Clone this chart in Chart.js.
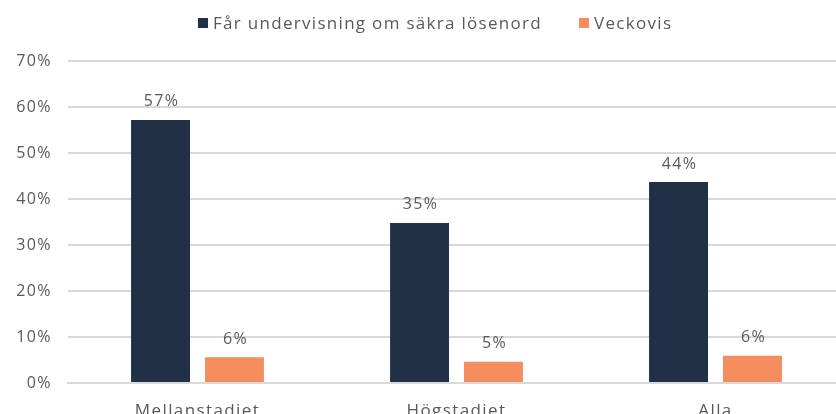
<!DOCTYPE html>
<html>
<head>
<meta charset="utf-8">
<script src="https://cdn.jsdelivr.net/npm/chart.js@4"></script>
<style>
  html, body { margin: 0; padding: 0; background: #fff; overflow: hidden; }
  #wrap { position: relative; width: 836px; height: 414px; overflow: hidden; }
  #box { position: absolute; left: 0; top: 0; width: 850px; height: 440px; }
  #legend { position: absolute; top: 10px; left: 198px; font-family: "Open Sans", sans-serif; font-size: 17px; letter-spacing: 1.3px; color: #595959; white-space: nowrap; line-height: 24px; }
  #legend span.item { display: inline-flex; align-items: center; margin-right: 37px; }
  #legend span.sw { display: inline-block; width: 10px; height: 10px; margin-right: 5px; }
</style>
</head>
<body>
<div id="wrap">
  <div id="box"><canvas id="c" width="850" height="440"></canvas></div>
  <div id="legend"></div>
</div>
<script>
const categories = ["Mellanstadiet", "Högstadiet", "Alla"];
const seriesNames = ["Får undervisning om säkra lösenord", "Veckovis"];
const undervisning = [57.2, 34.8, 43.7];
const veckovis = [5.6, 4.6, 5.9];
const yTicks = [0, 10, 20, 30, 40, 50, 60, 70];
const colors = ["#1f3047", "#f68d5e"];
const fontFamily = "'Open Sans', sans-serif";
const textColor = "#595959";
const spacing = "1.4px";

// HTML legend
const legend = document.getElementById("legend");
seriesNames.forEach((n, i) => {
  const s = document.createElement("span");
  s.className = "item";
  const sw = document.createElement("span");
  sw.className = "sw";
  sw.style.background = colors[i];
  s.appendChild(sw);
  s.appendChild(document.createTextNode(n));
  legend.appendChild(s);
});

const letterSpacingPlugin = {
  id: "letterSpacing",
  beforeUpdate(chart) { chart.ctx.letterSpacing = spacing; },
  beforeLayout(chart) { chart.ctx.letterSpacing = spacing; },
  beforeDraw(chart) { chart.ctx.letterSpacing = spacing; }
};

const valueLabels = {
  id: "valueLabels",
  afterDatasetsDraw(chart) {
    const ctx = chart.ctx;
    ctx.save();
    ctx.letterSpacing = spacing;
    ctx.font = "16px " + fontFamily;
    ctx.fillStyle = textColor;
    ctx.textAlign = "center";
    ctx.textBaseline = "middle";
    chart.data.datasets.forEach((ds, di) => {
      const meta = chart.getDatasetMeta(di);
      meta.data.forEach((el, i) => {
        ctx.fillText(Math.round(ds.data[i]) + "%", el.x + 1, el.y - 18);
      });
    });
    ctx.restore();
  }
};

new Chart(document.getElementById("c"), {
  type: "bar",
  data: {
    labels: categories,
    datasets: [
      { label: seriesNames[0], data: undervisning, backgroundColor: colors[0] },
      { label: seriesNames[1], data: veckovis, backgroundColor: colors[1] }
    ]
  },
  options: {
    responsive: false,
    animation: false,
    devicePixelRatio: 1,
    layout: { padding: { top: 61, right: 5, left: 0, bottom: 0 } },
    plugins: { legend: { display: false }, tooltip: { enabled: false } },
    datasets: { bar: { categoryPercentage: 0.571, barPercentage: 0.797 } },
    scales: {
      x: {
        grid: { display: false },
        border: { display: true, color: "#d9d9d9", width: 2 },
        ticks: { color: textColor, font: { family: fontFamily, size: 17 }, padding: 10 },
        afterFit(scale) { scale.height = 57; }
      },
      y: {
        min: 0, max: 70,
        afterBuildTicks(scale) { scale.ticks = yTicks.map(v => ({ value: v })); },
        grid: { color: "#d9d9d9", lineWidth: 2, drawTicks: false },
        border: { display: false },
        ticks: { color: textColor, font: { family: fontFamily, size: 16 }, padding: 16, callback: v => v + "%" },
        afterFit(scale) { scale.width = 68; }
      }
    }
  },
  plugins: [letterSpacingPlugin, valueLabels]
});
</script>
</body>
</html>
